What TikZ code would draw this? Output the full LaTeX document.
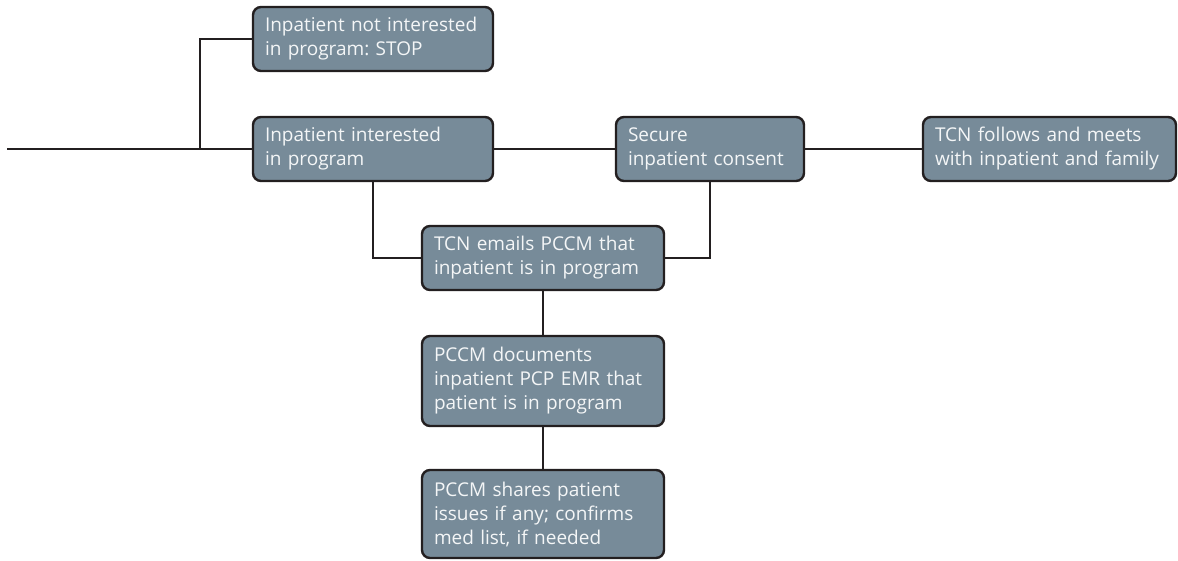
\documentclass[tikz,border=0pt]{standalone}
\usepackage{fontspec}
\setmainfont{Open Sans}
\frenchspacing
\begin{document}
\begin{tikzpicture}[x=1pt,y=-1pt,
  box/.style={draw=boxline, line width=2.4pt, fill=boxfill, rounded corners=8pt,
    text=boxtext, align=left, inner xsep=12pt, inner ysep=0pt,
    font=\fontsize{19}{24}\selectfont},
  link/.style={draw=boxline, line width=2pt}]
\definecolor{boxfill}{HTML}{778B99}
\definecolor{boxline}{HTML}{231F20}
\definecolor{boxtext}{HTML}{F4F6F7}
\useasboundingbox (0,0) rectangle (1178,560);
% step boxes
\node[box, text width=216pt, minimum height=64pt] (A) at (373,39) {Inpatient not interested\\in program: STOP};
\node[box, text width=216pt, minimum height=64pt] (B) at (373,149) {Inpatient interested\\in program};
\node[box, text width=164pt, minimum height=64pt] (C) at (710,149) {Secure\\inpatient consent};
\node[box, text width=229pt, minimum height=64pt] (D) at (1049.5,149) {TCN follows and meets\\with inpatient and family};
\node[box, text width=218pt, minimum height=64pt] (E) at (543,258) {TCN emails PCCM that\\inpatient is in program};
\node[box, text width=218pt, minimum height=90pt] (F) at (543,381) {PCCM documents\\inpatient PCP EMR that\\patient is in program};
\node[box, text width=218pt, minimum height=88pt] (G) at (543,514) {PCCM shares patient\\issues if any; confirms\\med list, if needed};
% connectors
\coordinate (start) at (7,149);
\coordinate (fork) at (200,149);
\draw[link] (start) -- (B.west);
\draw[link] (fork) |- (A.west);
\draw[link] (B.east) -- (C.west);
\draw[link] (C.east) -- (D.west);
\draw[link] (B.south) |- (E.west);
\draw[link] (C.south) |- (E.east);
\draw[link] (E.south) -- (F.north);
\draw[link] (F.south) -- (G.north);
\end{tikzpicture}
\end{document}
